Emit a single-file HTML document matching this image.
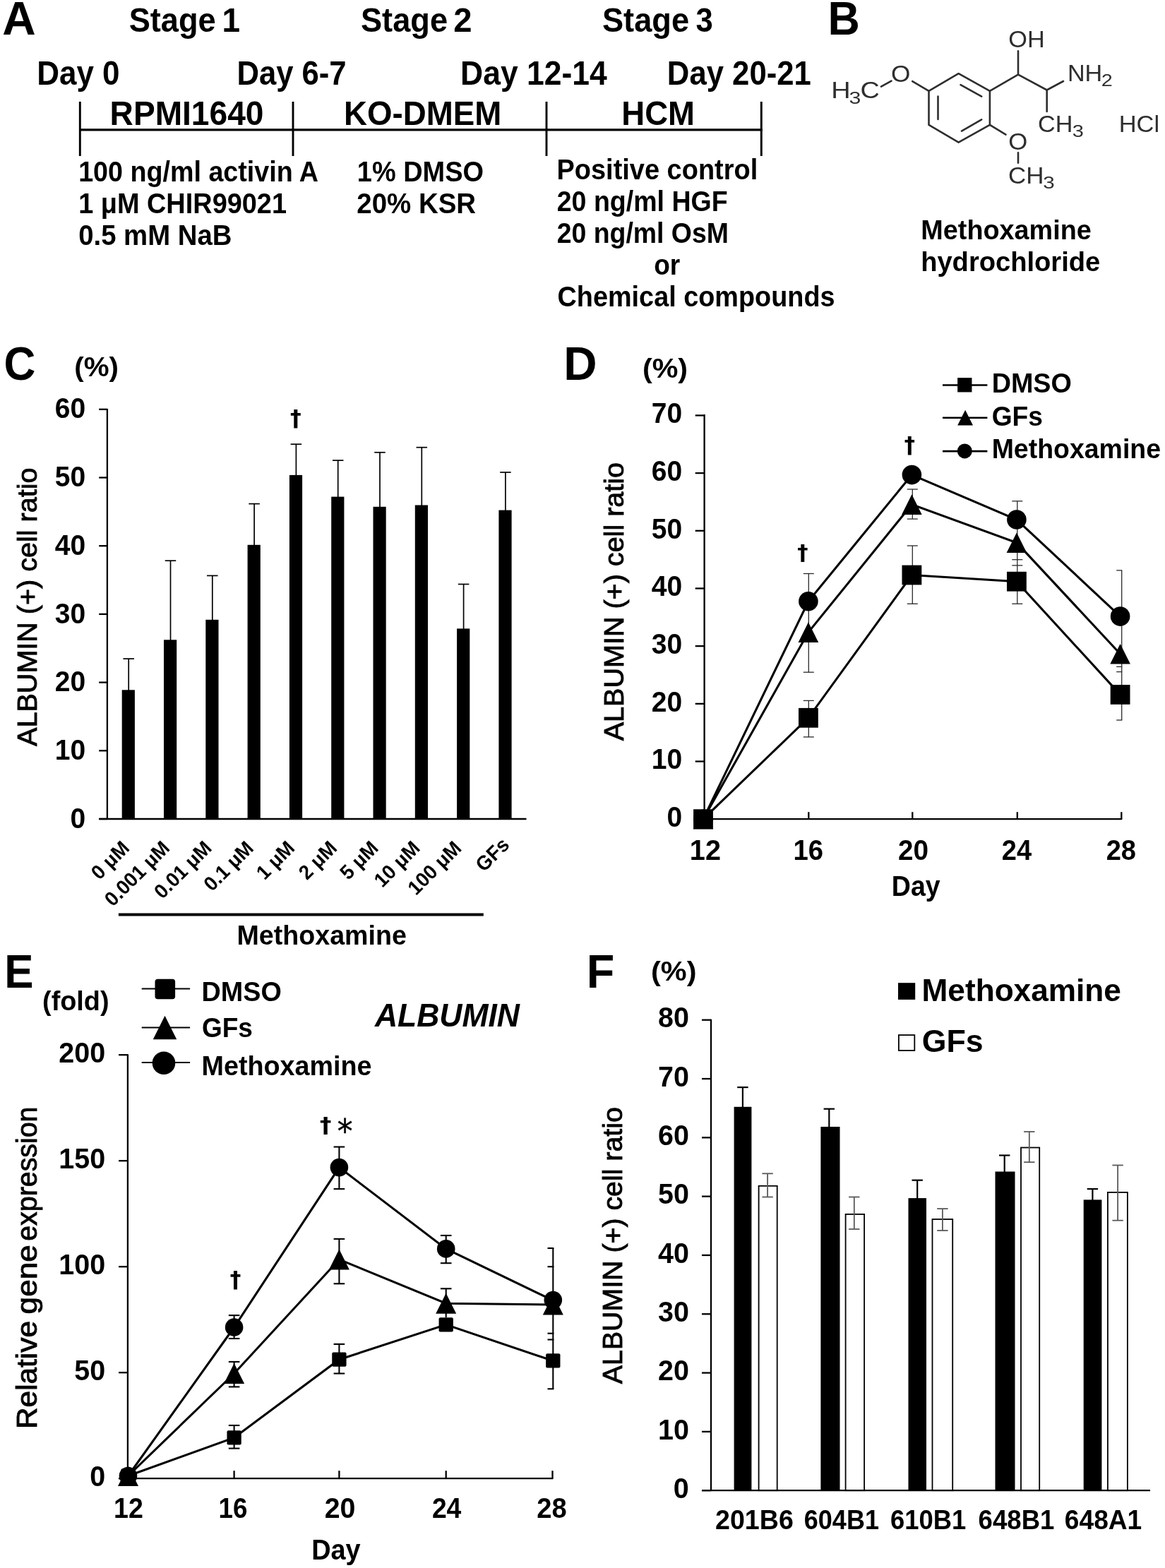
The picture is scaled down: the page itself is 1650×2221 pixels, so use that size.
<!DOCTYPE html>
<html lang="en">
<head>
<meta charset="utf-8">
<title>Figure</title>
<style>
html,body{margin:0;padding:0;background:#fff;}
svg{display:block;}
svg text{font-family:"Liberation Sans",Arial,Helvetica,sans-serif;font-weight:bold;}
</style>
</head>
<body>
<svg width="1650" height="2221" viewBox="0 0 1650 2221">
<rect width="1650" height="2221" fill="#fff"/>
<text x="3.36" y="49.30" textLength="47.43" lengthAdjust="spacingAndGlyphs" style="font-size:66.77px">A</text>
<text x="1172.62" y="49.20" textLength="45.34" lengthAdjust="spacingAndGlyphs" style="font-size:66.77px">B</text>
<text x="5.51" y="537.90" textLength="44.87" lengthAdjust="spacingAndGlyphs" style="font-size:66.77px">C</text>
<text x="798.14" y="538.00" textLength="47.32" lengthAdjust="spacingAndGlyphs" style="font-size:66.77px">D</text>
<text x="6.18" y="1398.70" textLength="41.20" lengthAdjust="spacingAndGlyphs" style="font-size:66.77px">E</text>
<text x="830.79" y="1398.70" textLength="39.53" lengthAdjust="spacingAndGlyphs" style="font-size:66.77px">F</text>
<text><tspan x="182.64" y="44.50" textLength="123.09" lengthAdjust="spacingAndGlyphs" style="font-size:47.32px">Stage</tspan> <tspan x="314.40" y="44.50" textLength="25.58" lengthAdjust="spacingAndGlyphs" style="font-size:47.32px">1</tspan></text>
<text><tspan x="510.94" y="44.50" textLength="123.09" lengthAdjust="spacingAndGlyphs" style="font-size:47.32px">Stage</tspan> <tspan x="642.34" y="44.50" textLength="26.30" lengthAdjust="spacingAndGlyphs" style="font-size:47.32px">2</tspan></text>
<text><tspan x="852.94" y="44.50" textLength="123.09" lengthAdjust="spacingAndGlyphs" style="font-size:47.32px">Stage</tspan> <tspan x="985.61" y="44.50" textLength="24.27" lengthAdjust="spacingAndGlyphs" style="font-size:47.32px">3</tspan></text>
<text x="52.14" y="120.00" textLength="117.48" lengthAdjust="spacingAndGlyphs" style="font-size:47.84px">Day 0</text>
<text x="335.47" y="120.00" textLength="155.12" lengthAdjust="spacingAndGlyphs" style="font-size:47.84px">Day 6-7</text>
<text x="652.11" y="120.00" textLength="207.62" lengthAdjust="spacingAndGlyphs" style="font-size:47.84px">Day 12-14</text>
<text x="944.86" y="120.00" textLength="203.93" lengthAdjust="spacingAndGlyphs" style="font-size:47.84px">Day 20-21</text>
<text x="155.60" y="176.70" textLength="217.83" lengthAdjust="spacingAndGlyphs" style="font-size:47.84px">RPMI1640</text>
<text x="487.03" y="176.70" textLength="223.39" lengthAdjust="spacingAndGlyphs" style="font-size:47.84px">KO-DMEM</text>
<text x="880.34" y="176.70" textLength="103.73" lengthAdjust="spacingAndGlyphs" style="font-size:47.84px">HCM</text>
<line x1="112.00" y1="183.80" x2="1079.70" y2="183.80" stroke="#000" stroke-width="3.2"/>
<line x1="113.30" y1="144.00" x2="113.30" y2="221.00" stroke="#000" stroke-width="2.9"/>
<line x1="415.00" y1="144.00" x2="415.00" y2="221.00" stroke="#000" stroke-width="2.9"/>
<line x1="774.00" y1="144.00" x2="774.00" y2="221.00" stroke="#000" stroke-width="2.9"/>
<line x1="1078.30" y1="144.00" x2="1078.30" y2="221.00" stroke="#000" stroke-width="2.9"/>
<text x="111.15" y="256.90" textLength="339.85" lengthAdjust="spacingAndGlyphs" style="font-size:40.56px">100 ng/ml activin A</text>
<text x="111.14" y="301.80" textLength="294.88" lengthAdjust="spacingAndGlyphs" style="font-size:40.56px">1 μM CHIR99021</text>
<text x="111.17" y="346.80" textLength="217.29" lengthAdjust="spacingAndGlyphs" style="font-size:40.56px">0.5 mM NaB</text>
<text x="505.84" y="256.90" textLength="179.10" lengthAdjust="spacingAndGlyphs" style="font-size:40.56px">1% DMSO</text>
<text x="505.35" y="301.80" textLength="168.74" lengthAdjust="spacingAndGlyphs" style="font-size:40.56px">20% KSR</text>
<text x="788.53" y="254.30" textLength="284.69" lengthAdjust="spacingAndGlyphs" style="font-size:40.56px">Positive control</text>
<text x="788.69" y="299.00" textLength="242.04" lengthAdjust="spacingAndGlyphs" style="font-size:40.56px">20 ng/ml HGF</text>
<text x="788.69" y="344.00" textLength="243.20" lengthAdjust="spacingAndGlyphs" style="font-size:40.56px">20 ng/ml OsM</text>
<text x="926.22" y="389.00" textLength="37.04" lengthAdjust="spacingAndGlyphs" style="font-size:40.56px">or</text>
<text x="789.49" y="433.80" textLength="393.06" lengthAdjust="spacingAndGlyphs" style="font-size:40.56px">Chemical compounds</text>
<text x="1304.34" y="339.10" textLength="241.49" lengthAdjust="spacingAndGlyphs" style="font-size:39.10px">Methoxamine</text>
<text x="1304.13" y="384.00" textLength="254.10" lengthAdjust="spacingAndGlyphs" style="font-size:39.10px">hydrochloride</text>
<g stroke="#2e2e2e" stroke-width="2.6" stroke-linecap="round" fill="none">
<polygon stroke-linejoin="round" points="1357.6,104.2 1401.9,128.9 1401.9,176.9 1357.6,201.6 1315.5,176.9 1315.5,128.9"/>
<line x1="1360.5" y1="120.2" x2="1390.2" y2="136.6"/>
<line x1="1328.5" y1="136.6" x2="1328.5" y2="169.0"/>
<line x1="1362.0" y1="185.6" x2="1390.2" y2="169.4"/>
<line x1="1401.9" y1="128.9" x2="1442.0" y2="105.6"/>
<line x1="1442.0" y1="105.6" x2="1442.0" y2="72.4"/>
<line x1="1442.0" y1="105.6" x2="1482.7" y2="127.5"/>
<line x1="1482.7" y1="127.5" x2="1506.0" y2="115.0"/>
<line x1="1482.7" y1="127.5" x2="1482.7" y2="158.0"/>
<line x1="1315.5" y1="128.9" x2="1292.2" y2="115.2"/>
<line x1="1262.5" y1="114.6" x2="1248.0" y2="122.7"/>
<line x1="1401.9" y1="176.9" x2="1424.5" y2="190.6"/>
<line x1="1442.0" y1="216.4" x2="1442.0" y2="230.7"/>
</g>
<text x="1428.26" y="67.00" textLength="51.38" lengthAdjust="spacingAndGlyphs" style="font-size:33.59px;font-weight:normal" fill="#2e2e2e">OH</text>
<text><tspan x="1511.97" y="115.20" textLength="49.31" lengthAdjust="spacingAndGlyphs" style="font-size:33.59px;font-weight:normal" fill="#2e2e2e">NH</tspan><tspan x="1559.86" y="122.30" textLength="16.01" lengthAdjust="spacingAndGlyphs" style="font-size:24.44px;font-weight:normal" fill="#2e2e2e">2</tspan></text>
<text><tspan x="1469.99" y="187.10" textLength="49.29" lengthAdjust="spacingAndGlyphs" style="font-size:33.59px;font-weight:normal" fill="#2e2e2e">CH</tspan><tspan x="1518.84" y="194.20" textLength="16.09" lengthAdjust="spacingAndGlyphs" style="font-size:24.44px;font-weight:normal" fill="#2e2e2e">3</tspan></text>
<text x="1584.75" y="187.10" textLength="57.34" lengthAdjust="spacingAndGlyphs" style="font-size:33.59px;font-weight:normal" fill="#2e2e2e">HCl</text>
<text x="1262.12" y="115.50" textLength="27.37" lengthAdjust="spacingAndGlyphs" style="font-size:33.59px;font-weight:normal" fill="#2e2e2e">O</text>
<text><tspan x="1177.17" y="139.10" textLength="27.34" lengthAdjust="spacingAndGlyphs" style="font-size:33.59px;font-weight:normal" fill="#2e2e2e">H</tspan><tspan x="1202.59" y="146.80" textLength="16.80" lengthAdjust="spacingAndGlyphs" style="font-size:24.44px;font-weight:normal" fill="#2e2e2e">3</tspan><tspan x="1218.51" y="139.10" textLength="27.28" lengthAdjust="spacingAndGlyphs" style="font-size:33.59px;font-weight:normal" fill="#2e2e2e">C</tspan></text>
<text x="1428.24" y="212.30" textLength="27.02" lengthAdjust="spacingAndGlyphs" style="font-size:33.59px;font-weight:normal" fill="#2e2e2e">O</text>
<text><tspan x="1428.06" y="259.80" textLength="50.39" lengthAdjust="spacingAndGlyphs" style="font-size:33.59px;font-weight:normal" fill="#2e2e2e">CH</tspan><tspan x="1477.22" y="266.80" textLength="16.45" lengthAdjust="spacingAndGlyphs" style="font-size:24.44px;font-weight:normal" fill="#2e2e2e">3</tspan></text>
<text x="105.28" y="532.70" textLength="62.74" lengthAdjust="spacingAndGlyphs" style="font-size:39.00px">(%)</text>
<line x1="151.90" y1="578.90" x2="151.90" y2="1160.90" stroke="#000" stroke-width="2.3"/>
<line x1="140.20" y1="1160.00" x2="745.50" y2="1160.00" stroke="#000" stroke-width="2.3"/>
<line x1="140.20" y1="1160.00" x2="151.90" y2="1160.00" stroke="#000" stroke-width="2.3"/>
<text x="99.51" y="1172.60" textLength="21.69" lengthAdjust="spacingAndGlyphs" style="font-size:40.56px">0</text>
<line x1="140.20" y1="1063.30" x2="151.90" y2="1063.30" stroke="#000" stroke-width="2.3"/>
<text x="77.87" y="1075.90" textLength="43.38" lengthAdjust="spacingAndGlyphs" style="font-size:40.56px">10</text>
<line x1="140.20" y1="966.60" x2="151.90" y2="966.60" stroke="#000" stroke-width="2.3"/>
<text x="77.87" y="979.20" textLength="43.38" lengthAdjust="spacingAndGlyphs" style="font-size:40.56px">20</text>
<line x1="140.20" y1="869.90" x2="151.90" y2="869.90" stroke="#000" stroke-width="2.3"/>
<text x="77.87" y="882.50" textLength="43.38" lengthAdjust="spacingAndGlyphs" style="font-size:40.56px">30</text>
<line x1="140.20" y1="773.20" x2="151.90" y2="773.20" stroke="#000" stroke-width="2.3"/>
<text x="77.87" y="785.80" textLength="43.38" lengthAdjust="spacingAndGlyphs" style="font-size:40.56px">40</text>
<line x1="140.20" y1="676.50" x2="151.90" y2="676.50" stroke="#000" stroke-width="2.3"/>
<text x="77.87" y="689.10" textLength="43.38" lengthAdjust="spacingAndGlyphs" style="font-size:40.56px">50</text>
<line x1="140.20" y1="579.80" x2="151.90" y2="579.80" stroke="#000" stroke-width="2.3"/>
<text x="77.87" y="592.40" textLength="43.38" lengthAdjust="spacingAndGlyphs" style="font-size:40.56px">60</text>
<rect x="172.70" y="977.30" width="18.20" height="182.70" fill="#000"/>
<line x1="182.20" y1="933.10" x2="182.20" y2="978.30" stroke="#000" stroke-width="1.7"/>
<line x1="174.45" y1="933.10" x2="189.95" y2="933.10" stroke="#000" stroke-width="1.7"/>
<text x="-60.77" y="0" transform="translate(183.60 1204.50) rotate(-45)" textLength="62.67" lengthAdjust="spacingAndGlyphs" style="font-size:28.60px">0 μM</text>
<rect x="232.00" y="906.30" width="18.20" height="253.70" fill="#000"/>
<line x1="241.50" y1="794.20" x2="241.50" y2="907.30" stroke="#000" stroke-width="1.7"/>
<line x1="233.75" y1="794.20" x2="249.25" y2="794.20" stroke="#000" stroke-width="1.7"/>
<text x="-114.26" y="0" transform="translate(240.60 1204.50) rotate(-45)" textLength="116.19" lengthAdjust="spacingAndGlyphs" style="font-size:28.60px">0.001 μM</text>
<rect x="291.30" y="877.80" width="18.20" height="282.20" fill="#000"/>
<line x1="300.80" y1="815.40" x2="300.80" y2="878.80" stroke="#000" stroke-width="1.7"/>
<line x1="293.05" y1="815.40" x2="308.55" y2="815.40" stroke="#000" stroke-width="1.7"/>
<text x="-99.00" y="0" transform="translate(300.00 1204.50) rotate(-45)" textLength="100.90" lengthAdjust="spacingAndGlyphs" style="font-size:28.60px">0.01 μM</text>
<rect x="350.60" y="771.80" width="18.20" height="388.20" fill="#000"/>
<line x1="360.10" y1="713.60" x2="360.10" y2="772.80" stroke="#000" stroke-width="1.7"/>
<line x1="352.35" y1="713.60" x2="367.85" y2="713.60" stroke="#000" stroke-width="1.7"/>
<text x="-83.74" y="0" transform="translate(359.40 1204.50) rotate(-45)" textLength="85.60" lengthAdjust="spacingAndGlyphs" style="font-size:28.60px">0.1 μM</text>
<rect x="409.90" y="672.90" width="18.20" height="487.10" fill="#000"/>
<line x1="419.40" y1="629.20" x2="419.40" y2="673.90" stroke="#000" stroke-width="1.7"/>
<line x1="411.65" y1="629.20" x2="427.15" y2="629.20" stroke="#000" stroke-width="1.7"/>
<text x="-60.77" y="0" transform="translate(417.60 1204.50) rotate(-45)" textLength="62.67" lengthAdjust="spacingAndGlyphs" style="font-size:28.60px">1 μM</text>
<rect x="469.20" y="703.60" width="18.20" height="456.40" fill="#000"/>
<line x1="478.70" y1="652.10" x2="478.70" y2="704.60" stroke="#000" stroke-width="1.7"/>
<line x1="470.95" y1="652.10" x2="486.45" y2="652.10" stroke="#000" stroke-width="1.7"/>
<text x="-60.77" y="0" transform="translate(477.60 1204.50) rotate(-45)" textLength="62.67" lengthAdjust="spacingAndGlyphs" style="font-size:28.60px">2 μM</text>
<rect x="528.50" y="717.80" width="18.20" height="442.20" fill="#000"/>
<line x1="538.00" y1="640.80" x2="538.00" y2="718.80" stroke="#000" stroke-width="1.7"/>
<line x1="530.25" y1="640.80" x2="545.75" y2="640.80" stroke="#000" stroke-width="1.7"/>
<text x="-60.78" y="0" transform="translate(536.20 1204.50) rotate(-45)" textLength="62.67" lengthAdjust="spacingAndGlyphs" style="font-size:28.60px">5 μM</text>
<rect x="587.80" y="715.50" width="18.20" height="444.50" fill="#000"/>
<line x1="597.30" y1="633.70" x2="597.30" y2="716.50" stroke="#000" stroke-width="1.7"/>
<line x1="589.55" y1="633.70" x2="605.05" y2="633.70" stroke="#000" stroke-width="1.7"/>
<text x="-76.04" y="0" transform="translate(595.20 1204.50) rotate(-45)" textLength="77.96" lengthAdjust="spacingAndGlyphs" style="font-size:28.60px">10 μM</text>
<rect x="647.10" y="890.40" width="18.20" height="269.60" fill="#000"/>
<line x1="656.60" y1="827.50" x2="656.60" y2="891.40" stroke="#000" stroke-width="1.7"/>
<line x1="648.85" y1="827.50" x2="664.35" y2="827.50" stroke="#000" stroke-width="1.7"/>
<text x="-91.44" y="0" transform="translate(653.80 1204.50) rotate(-45)" textLength="93.26" lengthAdjust="spacingAndGlyphs" style="font-size:28.60px">100 μM</text>
<rect x="706.40" y="722.60" width="18.20" height="437.40" fill="#000"/>
<line x1="715.90" y1="669.00" x2="715.90" y2="723.60" stroke="#000" stroke-width="1.7"/>
<line x1="708.15" y1="669.00" x2="723.65" y2="669.00" stroke="#000" stroke-width="1.7"/>
<text x="-52.39" y="0" transform="translate(722.30 1199.20) rotate(-45)" textLength="53.48" lengthAdjust="spacingAndGlyphs" style="font-size:28.60px">GFs</text>
<text x="411.01" y="603.42" textLength="15.73" lengthAdjust="spacingAndGlyphs" style="font-size:31.39px;font-family:'DejaVu Sans',sans-serif">†</text>
<line x1="167.90" y1="1295.50" x2="684.80" y2="1295.50" stroke="#000" stroke-width="4"/>
<text x="335.56" y="1337.90" textLength="240.27" lengthAdjust="spacingAndGlyphs" style="font-size:39.10px">Methoxamine</text>
<text x="-0.20" y="0" transform="translate(52.40 1056.70) rotate(-90)" textLength="394.38" lengthAdjust="spacingAndGlyphs" style="font-size:38.90px;font-weight:normal" stroke="#000" stroke-width="0.9">ALBUMIN (+) cell ratio</text>
<text x="909.94" y="535.30" textLength="64.13" lengthAdjust="spacingAndGlyphs" style="font-size:39.00px">(%)</text>
<line x1="997.60" y1="586.90" x2="997.60" y2="1161.10" stroke="#000" stroke-width="2.3"/>
<line x1="984.70" y1="1160.20" x2="1589.20" y2="1160.20" stroke="#000" stroke-width="2.3"/>
<line x1="984.70" y1="1160.20" x2="997.60" y2="1160.20" stroke="#000" stroke-width="2.3"/>
<text x="944.52" y="1171.00" textLength="21.69" lengthAdjust="spacingAndGlyphs" style="font-size:40.56px">0</text>
<line x1="984.70" y1="1078.52" x2="997.60" y2="1078.52" stroke="#000" stroke-width="2.3"/>
<text x="922.87" y="1089.32" textLength="43.38" lengthAdjust="spacingAndGlyphs" style="font-size:40.56px">10</text>
<line x1="984.70" y1="996.84" x2="997.60" y2="996.84" stroke="#000" stroke-width="2.3"/>
<text x="922.87" y="1007.64" textLength="43.38" lengthAdjust="spacingAndGlyphs" style="font-size:40.56px">20</text>
<line x1="984.70" y1="915.16" x2="997.60" y2="915.16" stroke="#000" stroke-width="2.3"/>
<text x="922.87" y="925.96" textLength="43.38" lengthAdjust="spacingAndGlyphs" style="font-size:40.56px">30</text>
<line x1="984.70" y1="833.48" x2="997.60" y2="833.48" stroke="#000" stroke-width="2.3"/>
<text x="922.87" y="844.28" textLength="43.38" lengthAdjust="spacingAndGlyphs" style="font-size:40.56px">40</text>
<line x1="984.70" y1="751.80" x2="997.60" y2="751.80" stroke="#000" stroke-width="2.3"/>
<text x="922.87" y="762.60" textLength="43.38" lengthAdjust="spacingAndGlyphs" style="font-size:40.56px">50</text>
<line x1="984.70" y1="670.12" x2="997.60" y2="670.12" stroke="#000" stroke-width="2.3"/>
<text x="922.87" y="680.92" textLength="43.38" lengthAdjust="spacingAndGlyphs" style="font-size:40.56px">60</text>
<line x1="984.70" y1="588.44" x2="997.60" y2="588.44" stroke="#000" stroke-width="2.3"/>
<text x="922.87" y="599.24" textLength="43.38" lengthAdjust="spacingAndGlyphs" style="font-size:40.56px">70</text>
<line x1="997.50" y1="1150.20" x2="997.50" y2="1160.20" stroke="#000" stroke-width="2.3"/>
<text x="976.82" y="1217.80" textLength="44.16" lengthAdjust="spacingAndGlyphs" style="font-size:40.56px">12</text>
<line x1="1145.30" y1="1150.20" x2="1145.30" y2="1160.20" stroke="#000" stroke-width="2.3"/>
<text x="1123.51" y="1217.80" textLength="42.62" lengthAdjust="spacingAndGlyphs" style="font-size:40.56px">16</text>
<line x1="1292.30" y1="1150.20" x2="1292.30" y2="1160.20" stroke="#000" stroke-width="2.3"/>
<text x="1271.94" y="1217.80" textLength="43.10" lengthAdjust="spacingAndGlyphs" style="font-size:40.56px">20</text>
<line x1="1440.80" y1="1150.20" x2="1440.80" y2="1160.20" stroke="#000" stroke-width="2.3"/>
<text x="1418.87" y="1217.80" textLength="42.31" lengthAdjust="spacingAndGlyphs" style="font-size:40.56px">24</text>
<line x1="1588.30" y1="1150.20" x2="1588.30" y2="1160.20" stroke="#000" stroke-width="2.3"/>
<text x="1566.67" y="1217.80" textLength="42.36" lengthAdjust="spacingAndGlyphs" style="font-size:40.56px">28</text>
<text x="1262.86" y="1269.30" textLength="68.81" lengthAdjust="spacingAndGlyphs" style="font-size:40.56px">Day</text>
<text x="-0.20" y="0" transform="translate(882.50 1049.10) rotate(-90)" textLength="394.38" lengthAdjust="spacingAndGlyphs" style="font-size:38.90px;font-weight:normal" stroke="#000" stroke-width="0.9">ALBUMIN (+) cell ratio</text>
<line x1="1145.30" y1="812.50" x2="1145.30" y2="952.20" stroke="#2a2a2a" stroke-width="1.3"/>
<line x1="1137.80" y1="812.50" x2="1152.80" y2="812.50" stroke="#2a2a2a" stroke-width="1.3"/>
<line x1="1137.80" y1="952.20" x2="1152.80" y2="952.20" stroke="#2a2a2a" stroke-width="1.3"/>
<line x1="1145.30" y1="992.40" x2="1145.30" y2="1043.90" stroke="#2a2a2a" stroke-width="1.3"/>
<line x1="1137.80" y1="992.40" x2="1152.80" y2="992.40" stroke="#2a2a2a" stroke-width="1.3"/>
<line x1="1137.80" y1="1043.90" x2="1152.80" y2="1043.90" stroke="#2a2a2a" stroke-width="1.3"/>
<line x1="1292.30" y1="693.00" x2="1292.30" y2="735.10" stroke="#2a2a2a" stroke-width="1.3"/>
<line x1="1284.80" y1="693.00" x2="1299.80" y2="693.00" stroke="#2a2a2a" stroke-width="1.3"/>
<line x1="1284.80" y1="735.10" x2="1299.80" y2="735.10" stroke="#2a2a2a" stroke-width="1.3"/>
<line x1="1292.30" y1="773.00" x2="1292.30" y2="855.30" stroke="#2a2a2a" stroke-width="1.3"/>
<line x1="1284.80" y1="773.00" x2="1299.80" y2="773.00" stroke="#2a2a2a" stroke-width="1.3"/>
<line x1="1284.80" y1="855.30" x2="1299.80" y2="855.30" stroke="#2a2a2a" stroke-width="1.3"/>
<line x1="1440.80" y1="709.80" x2="1440.80" y2="855.30" stroke="#2a2a2a" stroke-width="1.3"/>
<line x1="1433.30" y1="709.80" x2="1448.30" y2="709.80" stroke="#2a2a2a" stroke-width="1.3"/>
<line x1="1433.30" y1="792.70" x2="1448.30" y2="792.70" stroke="#2a2a2a" stroke-width="1.3"/>
<line x1="1433.30" y1="800.90" x2="1448.30" y2="800.90" stroke="#2a2a2a" stroke-width="1.3"/>
<line x1="1433.30" y1="855.30" x2="1448.30" y2="855.30" stroke="#2a2a2a" stroke-width="1.3"/>
<line x1="1588.70" y1="807.90" x2="1588.70" y2="1020.00" stroke="#2a2a2a" stroke-width="1.3"/>
<line x1="1581.20" y1="807.90" x2="1589.35" y2="807.90" stroke="#2a2a2a" stroke-width="1.3"/>
<line x1="1581.20" y1="944.40" x2="1589.35" y2="944.40" stroke="#2a2a2a" stroke-width="1.3"/>
<line x1="1581.20" y1="951.60" x2="1589.35" y2="951.60" stroke="#2a2a2a" stroke-width="1.3"/>
<line x1="1581.20" y1="1020.00" x2="1589.35" y2="1020.00" stroke="#2a2a2a" stroke-width="1.3"/>
<polyline fill="none" stroke="#000" stroke-width="3.1" stroke-linejoin="miter" points="996.00,1160.20 1144.90,1016.80 1291.40,814.50 1439.90,823.70 1586.60,983.90"/>
<polyline fill="none" stroke="#000" stroke-width="3.1" stroke-linejoin="miter" points="996.00,1160.20 1144.90,895.60 1291.40,714.60 1439.90,768.70 1586.60,926.20"/>
<polyline fill="none" stroke="#000" stroke-width="3.1" stroke-linejoin="miter" points="996.00,1160.20 1144.90,851.80 1291.40,672.60 1439.90,736.00 1586.60,873.10"/>
<circle cx="996.00" cy="1160.20" r="13.80"/>
<circle cx="1144.90" cy="851.80" r="13.80"/>
<circle cx="1291.40" cy="672.60" r="13.80"/>
<circle cx="1439.90" cy="736.00" r="13.80"/>
<circle cx="1586.60" cy="873.10" r="13.80"/>
<polygon points="996.00,1145.90 981.70,1174.50 1010.30,1174.50"/>
<polygon points="1144.90,881.30 1130.60,909.90 1159.20,909.90"/>
<polygon points="1291.40,700.30 1277.10,728.90 1305.70,728.90"/>
<polygon points="1439.90,754.40 1425.60,783.00 1454.20,783.00"/>
<polygon points="1586.60,911.90 1572.30,940.50 1600.90,940.50"/>
<rect x="982.10" y="1146.30" width="27.80" height="27.80" fill="#000"/>
<rect x="1131.00" y="1002.90" width="27.80" height="27.80" fill="#000"/>
<rect x="1277.50" y="800.60" width="27.80" height="27.80" fill="#000"/>
<rect x="1426.00" y="809.80" width="27.80" height="27.80" fill="#000"/>
<rect x="1572.70" y="970.00" width="27.80" height="27.80" fill="#000"/>
<text x="1129.24" y="792.76" textLength="15.28" lengthAdjust="spacingAndGlyphs" style="font-size:30.91px;font-family:'DejaVu Sans',sans-serif">†</text>
<text x="1280.74" y="641.04" textLength="15.28" lengthAdjust="spacingAndGlyphs" style="font-size:31.15px;font-family:'DejaVu Sans',sans-serif">†</text>
<line x1="1335.00" y1="545.50" x2="1398.40" y2="545.50" stroke="#000" stroke-width="2.6"/>
<rect x="1356.15" y="535.15" width="20.30" height="20.30" fill="#000"/>
<line x1="1335.00" y1="591.80" x2="1398.40" y2="591.80" stroke="#000" stroke-width="2.6"/>
<polygon points="1367.10,580.70 1356.20,602.50 1378.00,602.50"/>
<line x1="1335.00" y1="639.10" x2="1398.40" y2="639.10" stroke="#000" stroke-width="2.6"/>
<circle cx="1366.30" cy="638.90" r="10.50"/>
<text x="1404.65" y="556.20" textLength="113.26" lengthAdjust="spacingAndGlyphs" style="font-size:39.00px">DMSO</text>
<text x="1404.71" y="602.80" textLength="72.27" lengthAdjust="spacingAndGlyphs" style="font-size:39.00px">GFs</text>
<text x="1404.67" y="648.70" textLength="239.36" lengthAdjust="spacingAndGlyphs" style="font-size:39.00px">Methoxamine</text>
<text x="60.11" y="1431.40" textLength="94.43" lengthAdjust="spacingAndGlyphs" style="font-size:37.96px">(fold)</text>
<line x1="180.90" y1="1493.20" x2="180.90" y2="2095.10" stroke="#000" stroke-width="2.3"/>
<line x1="168.10" y1="2094.20" x2="783.40" y2="2094.20" stroke="#000" stroke-width="2.3"/>
<line x1="168.10" y1="2094.20" x2="180.90" y2="2094.20" stroke="#000" stroke-width="2.3"/>
<text x="127.16" y="2104.80" textLength="21.97" lengthAdjust="spacingAndGlyphs" style="font-size:41.08px">0</text>
<line x1="168.10" y1="1944.20" x2="180.90" y2="1944.20" stroke="#000" stroke-width="2.3"/>
<text x="105.23" y="1954.80" textLength="43.94" lengthAdjust="spacingAndGlyphs" style="font-size:41.08px">50</text>
<line x1="168.10" y1="1794.20" x2="180.90" y2="1794.20" stroke="#000" stroke-width="2.3"/>
<text x="83.31" y="1804.80" textLength="65.91" lengthAdjust="spacingAndGlyphs" style="font-size:41.08px">100</text>
<line x1="168.10" y1="1644.20" x2="180.90" y2="1644.20" stroke="#000" stroke-width="2.3"/>
<text x="83.31" y="1654.80" textLength="65.91" lengthAdjust="spacingAndGlyphs" style="font-size:41.08px">150</text>
<line x1="168.10" y1="1494.20" x2="180.90" y2="1494.20" stroke="#000" stroke-width="2.3"/>
<text x="83.31" y="1504.80" textLength="65.91" lengthAdjust="spacingAndGlyphs" style="font-size:41.08px">200</text>
<line x1="181.50" y1="2083.20" x2="181.50" y2="2094.20" stroke="#000" stroke-width="2.3"/>
<text x="161.06" y="2150.20" textLength="41.84" lengthAdjust="spacingAndGlyphs" style="font-size:40.56px">12</text>
<line x1="331.60" y1="2083.20" x2="331.60" y2="2094.20" stroke="#000" stroke-width="2.3"/>
<text x="309.51" y="2150.20" textLength="40.97" lengthAdjust="spacingAndGlyphs" style="font-size:40.56px">16</text>
<line x1="480.40" y1="2083.20" x2="480.40" y2="2094.20" stroke="#000" stroke-width="2.3"/>
<text x="459.72" y="2150.20" textLength="43.74" lengthAdjust="spacingAndGlyphs" style="font-size:40.56px">20</text>
<line x1="631.70" y1="2083.20" x2="631.70" y2="2094.20" stroke="#000" stroke-width="2.3"/>
<text x="611.89" y="2150.20" textLength="41.48" lengthAdjust="spacingAndGlyphs" style="font-size:40.56px">24</text>
<line x1="782.50" y1="2083.20" x2="782.50" y2="2094.20" stroke="#000" stroke-width="2.3"/>
<text x="760.26" y="2150.20" textLength="42.47" lengthAdjust="spacingAndGlyphs" style="font-size:40.56px">28</text>
<text x="441.14" y="2209.20" textLength="69.54" lengthAdjust="spacingAndGlyphs" style="font-size:40.56px">Day</text>
<text transform="translate(52.40 2020.60) rotate(-90)"><tspan x="-3.39" y="0" textLength="152.91" lengthAdjust="spacingAndGlyphs" style="font-size:39.94px;font-weight:normal" stroke="#000" stroke-width="0.9">Relative</tspan> <tspan x="159.23" y="0" textLength="98.34" lengthAdjust="spacingAndGlyphs" style="font-size:39.94px;font-weight:normal" stroke="#000" stroke-width="0.9">gene</tspan> <tspan x="262.83" y="0" textLength="190.27" lengthAdjust="spacingAndGlyphs" style="font-size:39.94px;font-weight:normal" stroke="#000" stroke-width="0.9">expression</tspan></text>
<text x="530.89" y="1453.50" textLength="205.14" lengthAdjust="spacingAndGlyphs" style="font-size:45.76px;font-style:italic">ALBUMIN</text>
<line x1="331.60" y1="1863.10" x2="331.60" y2="1896.00" stroke="#000" stroke-width="2.1"/>
<line x1="323.80" y1="1863.10" x2="339.40" y2="1863.10" stroke="#000" stroke-width="2.1"/>
<line x1="323.80" y1="1896.00" x2="339.40" y2="1896.00" stroke="#000" stroke-width="2.1"/>
<line x1="331.60" y1="1928.90" x2="331.60" y2="1964.40" stroke="#000" stroke-width="2.1"/>
<line x1="323.80" y1="1928.90" x2="339.40" y2="1928.90" stroke="#000" stroke-width="2.1"/>
<line x1="323.80" y1="1964.40" x2="339.40" y2="1964.40" stroke="#000" stroke-width="2.1"/>
<line x1="331.60" y1="2019.00" x2="331.60" y2="2051.60" stroke="#000" stroke-width="2.1"/>
<line x1="323.80" y1="2019.00" x2="339.40" y2="2019.00" stroke="#000" stroke-width="2.1"/>
<line x1="323.80" y1="2051.60" x2="339.40" y2="2051.60" stroke="#000" stroke-width="2.1"/>
<line x1="480.40" y1="1624.50" x2="480.40" y2="1684.10" stroke="#000" stroke-width="2.1"/>
<line x1="472.60" y1="1624.50" x2="488.20" y2="1624.50" stroke="#000" stroke-width="2.1"/>
<line x1="472.60" y1="1684.10" x2="488.20" y2="1684.10" stroke="#000" stroke-width="2.1"/>
<line x1="480.40" y1="1754.90" x2="480.40" y2="1818.30" stroke="#000" stroke-width="2.1"/>
<line x1="472.60" y1="1754.90" x2="488.20" y2="1754.90" stroke="#000" stroke-width="2.1"/>
<line x1="472.60" y1="1818.30" x2="488.20" y2="1818.30" stroke="#000" stroke-width="2.1"/>
<line x1="480.40" y1="1903.90" x2="480.40" y2="1945.50" stroke="#000" stroke-width="2.1"/>
<line x1="472.60" y1="1903.90" x2="488.20" y2="1903.90" stroke="#000" stroke-width="2.1"/>
<line x1="472.60" y1="1945.50" x2="488.20" y2="1945.50" stroke="#000" stroke-width="2.1"/>
<line x1="631.70" y1="1750.00" x2="631.70" y2="1789.20" stroke="#000" stroke-width="2.1"/>
<line x1="623.90" y1="1750.00" x2="639.50" y2="1750.00" stroke="#000" stroke-width="2.1"/>
<line x1="623.90" y1="1789.20" x2="639.50" y2="1789.20" stroke="#000" stroke-width="2.1"/>
<line x1="631.70" y1="1825.30" x2="631.70" y2="1866.00" stroke="#000" stroke-width="2.1"/>
<line x1="623.90" y1="1825.30" x2="639.50" y2="1825.30" stroke="#000" stroke-width="2.1"/>
<line x1="783.30" y1="1768.00" x2="783.30" y2="1967.30" stroke="#000" stroke-width="2.1"/>
<line x1="775.50" y1="1768.00" x2="784.35" y2="1768.00" stroke="#000" stroke-width="2.1"/>
<line x1="775.50" y1="1794.20" x2="784.35" y2="1794.20" stroke="#000" stroke-width="2.1"/>
<line x1="775.50" y1="1888.70" x2="784.35" y2="1888.70" stroke="#000" stroke-width="2.1"/>
<line x1="775.50" y1="1897.50" x2="784.35" y2="1897.50" stroke="#000" stroke-width="2.1"/>
<line x1="775.50" y1="1967.30" x2="784.35" y2="1967.30" stroke="#000" stroke-width="2.1"/>
<polyline fill="none" stroke="#000" stroke-width="3.1" stroke-linejoin="miter" points="181.50,2090.50 331.60,2036.40 480.40,1925.70 631.70,1876.40 782.50,1927.30"/>
<polyline fill="none" stroke="#000" stroke-width="3.1" stroke-linejoin="miter" points="181.50,2090.50 331.60,1945.50 480.40,1784.00 631.70,1846.30 782.50,1848.00"/>
<polyline fill="none" stroke="#000" stroke-width="3.1" stroke-linejoin="miter" points="181.50,2090.50 331.60,1880.00 480.40,1653.60 631.70,1768.90 782.50,1841.60"/>
<circle cx="181.50" cy="2090.50" r="12.80"/>
<circle cx="331.60" cy="1880.00" r="12.80"/>
<circle cx="480.40" cy="1653.60" r="12.80"/>
<circle cx="631.70" cy="1768.90" r="12.80"/>
<circle cx="783.30" cy="1841.60" r="12.80"/>
<rect x="171.35" y="2080.35" width="20.30" height="20.30" fill="#000" rx="2"/>
<rect x="321.45" y="2026.25" width="20.30" height="20.30" fill="#000" rx="2"/>
<rect x="470.25" y="1915.55" width="20.30" height="20.30" fill="#000" rx="2"/>
<rect x="621.55" y="1866.25" width="20.30" height="20.30" fill="#000" rx="2"/>
<rect x="773.15" y="1917.15" width="20.30" height="20.30" fill="#000" rx="2"/>
<polygon points="181.50,2076.00 167.00,2105.00 196.00,2105.00"/>
<polygon points="331.60,1931.00 317.10,1960.00 346.10,1960.00"/>
<polygon points="480.40,1769.50 465.90,1798.50 494.90,1798.50"/>
<polygon points="631.70,1831.80 617.20,1860.80 646.20,1860.80"/>
<polygon points="783.30,1833.50 768.80,1862.50 797.80,1862.50"/>
<text x="325.82" y="1823.23" textLength="15.62" lengthAdjust="spacingAndGlyphs" style="font-size:31.27px;font-family:'DejaVu Sans',sans-serif">†</text>
<text><tspan x="453.08" y="1604.36" textLength="16.40" lengthAdjust="spacingAndGlyphs" style="font-size:30.91px;font-family:'DejaVu Sans',sans-serif">†</tspan> <tspan x="477.80" y="1617.52" textLength="21.70" lengthAdjust="spacingAndGlyphs" style="font-size:45.43px;font-weight:normal;font-family:'DejaVu Sans',sans-serif" stroke="#000" stroke-width="0.5">*</tspan></text>
<line x1="200.70" y1="1400.50" x2="269.10" y2="1400.50" stroke="#000" stroke-width="2"/>
<rect x="219.50" y="1386.70" width="28.60" height="28.60" fill="#000" rx="4"/>
<line x1="200.70" y1="1455.50" x2="269.10" y2="1455.50" stroke="#000" stroke-width="2"/>
<polygon points="233.50,1438.85 216.75,1472.35 250.25,1472.35"/>
<line x1="200.70" y1="1505.00" x2="269.10" y2="1505.00" stroke="#000" stroke-width="2"/>
<circle cx="232.00" cy="1505.80" r="16.30"/>
<text x="285.55" y="1418.00" textLength="113.26" lengthAdjust="spacingAndGlyphs" style="font-size:39.52px">DMSO</text>
<text x="285.92" y="1468.60" textLength="71.95" lengthAdjust="spacingAndGlyphs" style="font-size:39.52px">GFs</text>
<text x="285.55" y="1523.30" textLength="240.88" lengthAdjust="spacingAndGlyphs" style="font-size:39.52px">Methoxamine</text>
<text x="922.03" y="1388.90" textLength="64.45" lengthAdjust="spacingAndGlyphs" style="font-size:39.00px">(%)</text>
<rect x="1039.60" y="1567.80" width="24.80" height="543.40" fill="#000"/>
<line x1="1051.90" y1="1540.10" x2="1051.90" y2="1568.80" stroke="#000" stroke-width="2.2"/>
<line x1="1044.20" y1="1540.10" x2="1059.60" y2="1540.10" stroke="#000" stroke-width="2.2"/>
<rect x="1074.60" y="1679.80" width="26.10" height="431.40" fill="#fff" stroke="#000" stroke-width="1.8"/>
<line x1="1087.10" y1="1662.30" x2="1087.10" y2="1695.50" stroke="#5a5a5a" stroke-width="1.8"/>
<line x1="1079.40" y1="1662.30" x2="1094.80" y2="1662.30" stroke="#5a5a5a" stroke-width="1.8"/>
<line x1="1079.40" y1="1695.50" x2="1094.80" y2="1695.50" stroke="#5a5a5a" stroke-width="1.8"/>
<text x="1012.98" y="2166.00" textLength="110.91" lengthAdjust="spacingAndGlyphs" style="font-size:39.52px">201B6</text>
<rect x="1162.40" y="1596.00" width="27.10" height="515.20" fill="#000"/>
<line x1="1174.30" y1="1570.70" x2="1174.30" y2="1597.00" stroke="#000" stroke-width="2.2"/>
<line x1="1166.60" y1="1570.70" x2="1182.00" y2="1570.70" stroke="#000" stroke-width="2.2"/>
<rect x="1197.60" y="1719.90" width="26.50" height="391.30" fill="#fff" stroke="#000" stroke-width="1.8"/>
<line x1="1209.80" y1="1695.50" x2="1209.80" y2="1741.00" stroke="#5a5a5a" stroke-width="1.8"/>
<line x1="1202.10" y1="1695.50" x2="1217.50" y2="1695.50" stroke="#5a5a5a" stroke-width="1.8"/>
<line x1="1202.10" y1="1741.00" x2="1217.50" y2="1741.00" stroke="#5a5a5a" stroke-width="1.8"/>
<text x="1138.74" y="2166.00" textLength="106.23" lengthAdjust="spacingAndGlyphs" style="font-size:39.52px">604B1</text>
<rect x="1286.50" y="1697.10" width="25.50" height="414.10" fill="#000"/>
<line x1="1299.20" y1="1671.70" x2="1299.20" y2="1698.10" stroke="#000" stroke-width="2.2"/>
<line x1="1291.50" y1="1671.70" x2="1306.90" y2="1671.70" stroke="#000" stroke-width="2.2"/>
<rect x="1320.50" y="1727.00" width="28.70" height="384.20" fill="#fff" stroke="#000" stroke-width="1.8"/>
<line x1="1334.90" y1="1712.10" x2="1334.90" y2="1743.00" stroke="#5a5a5a" stroke-width="1.8"/>
<line x1="1327.20" y1="1712.10" x2="1342.60" y2="1712.10" stroke="#5a5a5a" stroke-width="1.8"/>
<line x1="1327.20" y1="1743.00" x2="1342.60" y2="1743.00" stroke="#5a5a5a" stroke-width="1.8"/>
<text x="1260.92" y="2166.00" textLength="107.35" lengthAdjust="spacingAndGlyphs" style="font-size:39.52px">610B1</text>
<rect x="1409.50" y="1659.50" width="28.00" height="451.70" fill="#000"/>
<line x1="1422.70" y1="1636.50" x2="1422.70" y2="1660.50" stroke="#000" stroke-width="2.2"/>
<line x1="1415.00" y1="1636.50" x2="1430.40" y2="1636.50" stroke="#000" stroke-width="2.2"/>
<rect x="1446.00" y="1625.50" width="26.20" height="485.70" fill="#fff" stroke="#000" stroke-width="1.8"/>
<line x1="1457.80" y1="1603.00" x2="1457.80" y2="1646.20" stroke="#5a5a5a" stroke-width="1.8"/>
<line x1="1450.10" y1="1603.00" x2="1465.50" y2="1603.00" stroke="#5a5a5a" stroke-width="1.8"/>
<line x1="1450.10" y1="1646.20" x2="1465.50" y2="1646.20" stroke="#5a5a5a" stroke-width="1.8"/>
<text x="1385.62" y="2166.00" textLength="107.86" lengthAdjust="spacingAndGlyphs" style="font-size:39.52px">648B1</text>
<rect x="1534.70" y="1699.40" width="25.70" height="411.80" fill="#000"/>
<line x1="1547.40" y1="1684.10" x2="1547.40" y2="1700.40" stroke="#000" stroke-width="2.2"/>
<line x1="1539.70" y1="1684.10" x2="1555.10" y2="1684.10" stroke="#000" stroke-width="2.2"/>
<rect x="1568.90" y="1688.90" width="28.00" height="422.30" fill="#fff" stroke="#000" stroke-width="1.8"/>
<line x1="1583.10" y1="1650.50" x2="1583.10" y2="1728.70" stroke="#5a5a5a" stroke-width="1.8"/>
<line x1="1575.40" y1="1650.50" x2="1590.80" y2="1650.50" stroke="#5a5a5a" stroke-width="1.8"/>
<line x1="1575.40" y1="1728.70" x2="1590.80" y2="1728.70" stroke="#5a5a5a" stroke-width="1.8"/>
<text x="1507.80" y="2166.00" textLength="109.50" lengthAdjust="spacingAndGlyphs" style="font-size:39.52px">648A1</text>
<line x1="1007.00" y1="1443.70" x2="1007.00" y2="2112.10" stroke="#000" stroke-width="2.3"/>
<line x1="994.00" y1="2111.20" x2="1629.00" y2="2111.20" stroke="#000" stroke-width="2.3"/>
<line x1="994.00" y1="2111.20" x2="1007.00" y2="2111.20" stroke="#000" stroke-width="2.3"/>
<text x="953.86" y="2121.90" textLength="21.97" lengthAdjust="spacingAndGlyphs" style="font-size:41.08px">0</text>
<line x1="994.00" y1="2027.89" x2="1007.00" y2="2027.89" stroke="#000" stroke-width="2.3"/>
<text x="931.94" y="2038.59" textLength="43.94" lengthAdjust="spacingAndGlyphs" style="font-size:41.08px">10</text>
<line x1="994.00" y1="1944.58" x2="1007.00" y2="1944.58" stroke="#000" stroke-width="2.3"/>
<text x="931.93" y="1955.28" textLength="43.94" lengthAdjust="spacingAndGlyphs" style="font-size:41.08px">20</text>
<line x1="994.00" y1="1861.27" x2="1007.00" y2="1861.27" stroke="#000" stroke-width="2.3"/>
<text x="931.94" y="1871.97" textLength="43.94" lengthAdjust="spacingAndGlyphs" style="font-size:41.08px">30</text>
<line x1="994.00" y1="1777.96" x2="1007.00" y2="1777.96" stroke="#000" stroke-width="2.3"/>
<text x="931.94" y="1788.66" textLength="43.94" lengthAdjust="spacingAndGlyphs" style="font-size:41.08px">40</text>
<line x1="994.00" y1="1694.65" x2="1007.00" y2="1694.65" stroke="#000" stroke-width="2.3"/>
<text x="931.94" y="1705.35" textLength="43.94" lengthAdjust="spacingAndGlyphs" style="font-size:41.08px">50</text>
<line x1="994.00" y1="1611.34" x2="1007.00" y2="1611.34" stroke="#000" stroke-width="2.3"/>
<text x="931.93" y="1622.04" textLength="43.94" lengthAdjust="spacingAndGlyphs" style="font-size:41.08px">60</text>
<line x1="994.00" y1="1528.03" x2="1007.00" y2="1528.03" stroke="#000" stroke-width="2.3"/>
<text x="931.94" y="1538.73" textLength="43.94" lengthAdjust="spacingAndGlyphs" style="font-size:41.08px">70</text>
<line x1="994.00" y1="1444.72" x2="1007.00" y2="1444.72" stroke="#000" stroke-width="2.3"/>
<text x="931.94" y="1455.42" textLength="43.94" lengthAdjust="spacingAndGlyphs" style="font-size:41.08px">80</text>
<text x="-0.20" y="0" transform="translate(880.70 1960.00) rotate(-90)" textLength="391.97" lengthAdjust="spacingAndGlyphs" style="font-size:38.90px;font-weight:normal" stroke="#000" stroke-width="0.9">ALBUMIN (+) cell ratio</text>
<rect x="1272.00" y="1392.20" width="24.20" height="23.70" fill="#000"/>
<rect x="1272.90" y="1466.10" width="22.40" height="21.90" fill="#fff" stroke="#000" stroke-width="1.8"/>
<text x="1305.53" y="1417.60" textLength="282.43" lengthAdjust="spacingAndGlyphs" style="font-size:44.72px">Methoxamine</text>
<text x="1305.81" y="1490.20" textLength="86.87" lengthAdjust="spacingAndGlyphs" style="font-size:44.72px">GFs</text>
</svg>
</body>
</html>
